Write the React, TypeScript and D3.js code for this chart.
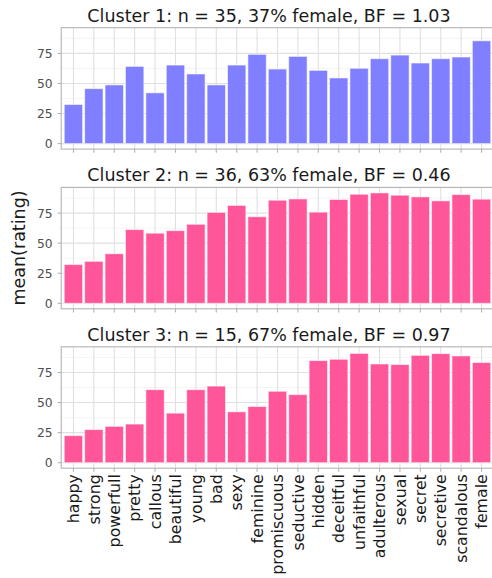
import React from "react";
import * as d3 from "d3";

const categories = ["happy","strong","powerfull","pretty","callous","beautiful","young","bad","sexy","feminine","promiscuous","seductive","hidden","deceitful","unfaithful","adulterous","sexual","secret","secretive","scandalous","female"];
const cluster1 = [32.5,45.7,48.8,64.2,42.2,65.3,57.9,48.8,65.3,74.2,62.0,72.5,60.9,54.6,62.6,70.6,73.6,67.0,70.6,72.0,85.5];
const cluster2 = [32.2,34.9,41.2,61.3,58.3,60.4,65.7,75.6,81.4,72.0,85.7,86.8,75.8,86.3,90.7,91.8,89.9,88.5,85.2,90.4,86.6];
const cluster3 = [22.5,27.5,30.2,32.1,60.7,41.2,60.7,63.7,42.3,46.7,59.4,56.6,84.9,86.0,90.9,82.1,81.6,89.3,90.7,88.8,83.3];
const titles = [
  "Cluster 1: n = 35, 37% female, BF = 1.03",
  "Cluster 2: n = 36, 63% female, BF = 0.46",
  "Cluster 3: n = 15, 67% female, BF = 0.97",
];
const fills = ["#7F7FFF", "#FF5599", "#FF5599"];
const yTicks = [0, 25, 50, 75];
const yMinor = [12.5, 37.5, 62.5, 87.5];

const W = 492, H = 578;
const panelLeft = 61.2;
const panelRight = 493.8;
const panelTops = [27.7, 187.4, 346.8];
const panelH = 121.4;
const FONT = "DejaVu Sans, sans-serif";

export default function App() {
  const cats = categories;
  const series = [cluster1, cluster2, cluster3];
  const maxV = d3.max(series.flat()) as number;
  const pad = maxV * 0.05;
  const n = cats.length;
  const unit = (panelRight - panelLeft) / (n + 0.2);
  const x = d3.scaleBand<string>().domain(cats)
    .range([panelLeft + 0.1 * unit, panelRight - 0.1 * unit])
    .paddingInner(0.1).paddingOuter(0.05);
  const bw = x.bandwidth();
  const cx = (c: string) => (x(c) as number) + bw / 2;

  return (
    <svg width={W} height={H} style={{ position: "absolute", left: 0, top: 0, background: "#fff" }} fontFamily={FONT}>
      {series.map((vals, pi) => {
        const top = panelTops[pi];
        const y = d3.scaleLinear().domain([-pad, maxV + pad]).range([top + panelH, top]);
        return (
          <g key={pi}>
            <text x={269} y={top - 6} textAnchor="middle" fontSize={17.5} fill="#1a1a1a">{titles[pi]}</text>
            {yMinor.map(t => (
              <line key={"mi" + t} x1={panelLeft} x2={panelRight} y1={y(t)} y2={y(t)} stroke="#EDEDED" strokeWidth={0.6} />
            ))}
            {yTicks.map(t => (
              <line key={"ma" + t} x1={panelLeft} x2={panelRight} y1={y(t)} y2={y(t)} stroke="#E0E0E0" strokeWidth={1.1} />
            ))}
            {cats.map(c => (
              <line key={"vx" + c} x1={cx(c)} x2={cx(c)} y1={top} y2={top + panelH} stroke="#E0E0E0" strokeWidth={1.1} />
            ))}
            {cats.map((c, i) => (
              <rect key={"b" + c} x={x(c)} width={bw} y={y(vals[i])} height={y(0) - y(vals[i])}
                fill={fills[pi]} stroke="#ffffff" strokeOpacity={0.55} strokeWidth={1} />
            ))}
            <rect x={panelLeft} y={top} width={panelRight - panelLeft} height={panelH} fill="none" stroke="#B3B3B3" strokeWidth={1.1} />
            {yTicks.map(t => (
              <g key={"yt" + t}>
                <line x1={panelLeft - 3.6} x2={panelLeft} y1={y(t)} y2={y(t)} stroke="#B3B3B3" strokeWidth={1.1} />
                <text x={panelLeft - 8.5} y={y(t)} dy="0.36em" textAnchor="end" fontSize={12.3} fill="#4D4D4D">{t}</text>
              </g>
            ))}
            {cats.map(c => (
              <line key={"xt" + c} x1={cx(c)} x2={cx(c)} y1={top + panelH} y2={top + panelH + 3.6} stroke="#B3B3B3" strokeWidth={1.1} />
            ))}
          </g>
        );
      })}
      {cats.map(c => {
        const yy = panelTops[2] + panelH + 6;
        return (
          <text key={"xl" + c} transform={`translate(${cx(c)},${yy}) rotate(-90)`} textAnchor="end" dy="0.36em"
            fontSize={15.8} fill="#1a1a1a">{c}</text>
        );
      })}
      <text transform={`translate(19,${(panelTops[0] + panelTops[2] + panelH) / 2}) rotate(-90)`} textAnchor="middle"
        dy="0.36em" fontSize={17.5} fill="#1a1a1a">mean(rating)</text>
    </svg>
  );
}
